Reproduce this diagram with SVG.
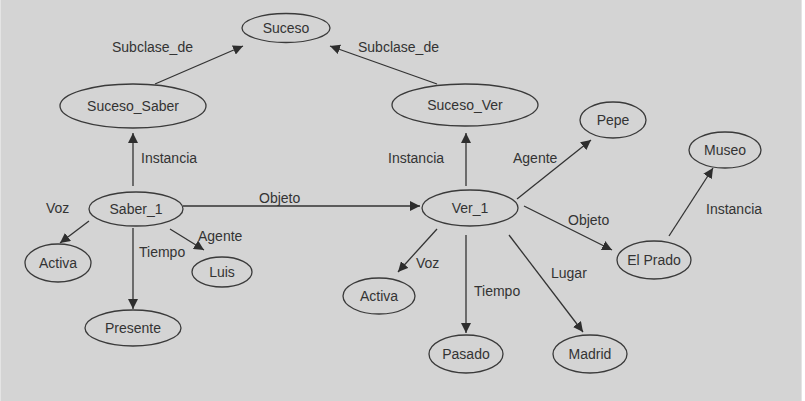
<svg xmlns="http://www.w3.org/2000/svg" width="805" height="401" viewBox="0 0 805 401">
<defs>
<marker id="ah" viewBox="0 0 10 10" refX="10" refY="5" markerWidth="10" markerHeight="10" markerUnits="userSpaceOnUse" orient="auto">
<path d="M0,0 L10,5 L0,10 Z" fill="#2e2e2e"/>
</marker>
<style>
.n ellipse{fill:none;stroke:#3a3a3a;stroke-width:1.3}
text{font-family:"Liberation Sans",Arial,sans-serif;font-size:14px;fill:#333}
.n text{text-anchor:middle}
#edges line{stroke:#333;stroke-width:1.3;marker-end:url(#ah)}
</style>
</defs>
<rect x="0" y="0" width="805" height="401" fill="#ffffff"/>
<rect x="0" y="0" width="802" height="401" fill="#d4d4d4"/>
<line x1="0.5" y1="0" x2="0.5" y2="401" stroke="#e4e4e4"/>
<line x1="801.5" y1="0" x2="801.5" y2="401" stroke="#e4e4e4"/>

<g id="edges">
<line x1="155" y1="84" x2="243" y2="46"/>
<line x1="437" y1="84" x2="330" y2="46"/>
<line x1="133" y1="186" x2="133" y2="133"/>
<line x1="466" y1="186" x2="466" y2="133"/>
<line x1="517" y1="199" x2="591" y2="140"/>
<line x1="669" y1="236" x2="713" y2="168"/>
<line x1="183" y1="206" x2="420" y2="206"/>
<line x1="89" y1="221" x2="60" y2="243"/>
<line x1="133" y1="228" x2="133" y2="309"/>
<line x1="170" y1="229" x2="204" y2="250"/>
<line x1="437" y1="229" x2="398" y2="272"/>
<line x1="466" y1="235" x2="466" y2="333"/>
<line x1="509" y1="235" x2="583" y2="332"/>
<line x1="524" y1="206" x2="612" y2="250"/>
<text x="112" y="52">Subclase_de</text>
<text x="358" y="52">Subclase_de</text>
<text x="141" y="163">Instancia</text>
<text x="388" y="163">Instancia</text>
<text x="513" y="163">Agente</text>
<text x="706" y="214">Instancia</text>
<text x="259" y="203">Objeto</text>
<text x="46" y="213">Voz</text>
<text x="198" y="241">Agente</text>
<text x="139" y="257">Tiempo</text>
<text x="568" y="225">Objeto</text>
<text x="416" y="268">Voz</text>
<text x="474" y="296">Tiempo</text>
<text x="551" y="278">Lugar</text>
</g>

<g id="suceso" class="n"><ellipse cx="286" cy="28" rx="44" ry="14.5"/><text x="286" y="33">Suceso</text></g>
<g id="suceso_saber" class="n"><ellipse cx="133" cy="106" rx="73" ry="22"/><text x="133" y="111">Suceso_Saber</text></g>
<g id="suceso_ver" class="n"><ellipse cx="465" cy="105" rx="73" ry="21"/><text x="465" y="110">Suceso_Ver</text></g>
<g id="pepe" class="n"><ellipse cx="613" cy="120" rx="33" ry="18"/><text x="613" y="125">Pepe</text></g>
<g id="museo" class="n"><ellipse cx="725" cy="150" rx="36" ry="18"/><text x="725" y="155">Museo</text></g>
<g id="saber_1" class="n"><ellipse cx="136" cy="209" rx="47" ry="17"/><text x="136" y="214">Saber_1</text></g>
<g id="ver_1" class="n"><ellipse cx="470" cy="208" rx="48" ry="18"/><text x="470" y="213">Ver_1</text></g>
<g id="activa_1" class="n"><ellipse cx="58" cy="263" rx="33" ry="19"/><text x="58" y="268">Activa</text></g>
<g id="luis" class="n"><ellipse cx="222" cy="272" rx="30" ry="15"/><text x="222" y="277">Luis</text></g>
<g id="presente" class="n"><ellipse cx="133" cy="328" rx="48" ry="18"/><text x="133" y="333">Presente</text></g>
<g id="activa_2" class="n"><ellipse cx="379" cy="296" rx="36" ry="18"/><text x="379" y="301">Activa</text></g>
<g id="pasado" class="n"><ellipse cx="466" cy="354" rx="37" ry="19"/><text x="466" y="359">Pasado</text></g>
<g id="madrid" class="n"><ellipse cx="590" cy="354" rx="37" ry="19"/><text x="590" y="359">Madrid</text></g>
<g id="el_prado" class="n"><ellipse cx="654" cy="260" rx="37" ry="19"/><text x="654" y="265">El Prado</text></g>
</svg>
